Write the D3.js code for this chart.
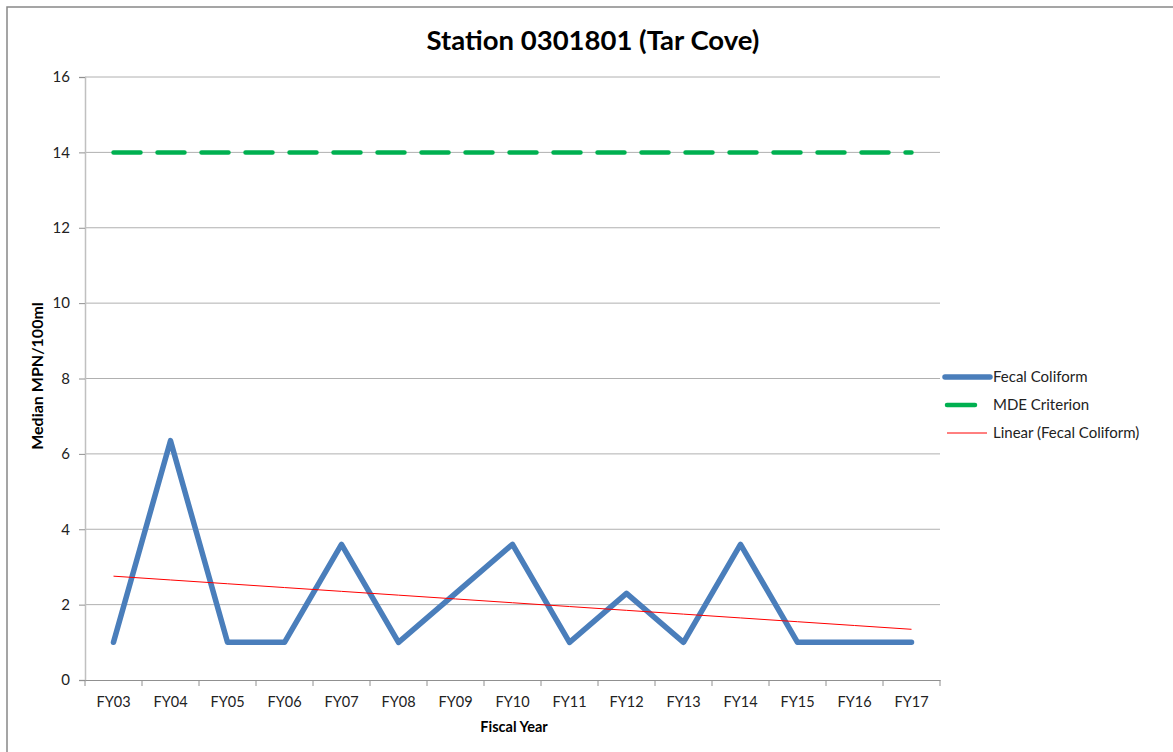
<!DOCTYPE html>
<html><head><meta charset="utf-8">
<script src="https://cdn.jsdelivr.net/npm/d3@7"></script>
<style>body{margin:0;background:#fff;}svg{display:block;font-family:Lato,"Open Sans",sans-serif;}</style>
</head><body>
<script>
const categories = ["FY03","FY04","FY05","FY06","FY07","FY08","FY09","FY10","FY11","FY12","FY13","FY14","FY15","FY16","FY17"];
const fecalColiform = [1, 6.35, 1, 1, 3.6, 1, 2.3, 3.6, 1, 2.3, 1, 3.6, 1, 1, 1];
const mdeCriterion = [14,14,14,14,14,14,14,14,14,14,14,14,14,14,14];
const yTicks = [0,2,4,6,8,10,12,14,16];
const seriesNames = ["Fecal Coliform","MDE Criterion","Linear (Fecal Coliform)"];

(function(){
const W = 1173, H = 752;
const pLeft = 85, pRight = 940, pTop = 77, pBottom = 680;
const svg = d3.select("body").append("svg").attr("width", W).attr("height", H);

svg.append("rect").attr("x",7).attr("y",7).attr("width",W).attr("height",H)
  .attr("fill","#fff").attr("stroke","#888").attr("stroke-width",1.5);

const x = d3.scaleBand().domain(categories).range([pLeft, pRight]);
const y = d3.scaleLinear().domain([0,16]).range([pBottom, pTop]);
const cx = d => x(d) + x.bandwidth()/2;

svg.append("g").selectAll("line").data(yTicks.filter(t=>t>0)).join("line")
  .attr("x1", pLeft).attr("x2", pRight).attr("y1", d=>y(d)).attr("y2", d=>y(d))
  .attr("stroke","#b0b0b0").attr("stroke-width",1);

const yAxis = svg.append("g").attr("transform",`translate(${pLeft},0)`)
  .call(d3.axisLeft(y).tickValues(yTicks).tickSize(6).tickPadding(9));
yAxis.select(".domain").attr("stroke","#c0c0c0").attr("stroke-width",1.5);
yAxis.selectAll(".tick line").attr("stroke","#909090");
yAxis.selectAll("text").attr("font-size",15).attr("fill","#222").attr("font-family","Lato,sans-serif");

const xAxis = svg.append("g").attr("transform",`translate(0,${pBottom})`)
  .call(d3.axisBottom(x).tickSize(0).tickPadding(17));
xAxis.select(".domain").attr("stroke","#909090").attr("stroke-width",1.2);
xAxis.selectAll("text").attr("font-size",14.5).attr("fill","#222").attr("font-family","Lato,sans-serif");
const bounds = categories.map(c=>x(c)).concat([pRight]);
svg.append("g").selectAll("line").data(bounds).join("line")
  .attr("x1",d=>d).attr("x2",d=>d).attr("y1",pBottom).attr("y2",pBottom+6)
  .attr("stroke","#909090").attr("stroke-width",1);

const n = fecalColiform.length;
const xs = d3.range(1, n+1);
const mx = d3.mean(xs), my = d3.mean(fecalColiform);
const slope = d3.sum(xs.map((v,i)=>(v-mx)*(fecalColiform[i]-my))) / d3.sum(xs.map(v=>(v-mx)*(v-mx)));
const intercept = my - slope*mx;
const trend = xs.map(v => intercept + slope*v);

const line = d3.line().x((d,i)=>cx(categories[i])).y(d=>y(d));
svg.append("path").datum(mdeCriterion).attr("d", line)
  .attr("fill","none").attr("stroke","#00B050").attr("stroke-width",4.5)
  .attr("stroke-dasharray","27,17").attr("stroke-linecap","round");

svg.append("path").datum(fecalColiform).attr("d", line)
  .attr("fill","none").attr("stroke","#4A7EBB").attr("stroke-width",5.5)
  .attr("stroke-linejoin","round").attr("stroke-linecap","round");

svg.append("path").datum(trend).attr("d", line)
  .attr("fill","none").attr("stroke","#FF0000").attr("stroke-width",1);

svg.append("text").attr("x", 593).attr("y", 50).attr("text-anchor","middle")
  .attr("font-size",27.5).attr("font-weight","bold").attr("fill","#000").text("Station 0301801 (Tar Cove)");

svg.append("text").attr("transform","translate(43,376) rotate(-90)").attr("text-anchor","middle")
  .attr("font-size",16).attr("font-weight","bold").attr("fill","#000").text("Median MPN/100ml");
svg.append("text").attr("x", 514).attr("y", 732).attr("text-anchor","middle")
  .attr("font-size",14.5).attr("font-weight","bold").attr("fill","#000").text("Fiscal Year");

const legend = svg.append("g");
const ly = [377, 405, 433];
const lstyles = [
  {x1:945,x2:990,stroke:"#4A7EBB",w:5.5,cap:"round"},
  {x1:947,x2:975,stroke:"#00B050",w:4.5,cap:"round"},
  {x1:947,x2:987,stroke:"#FF0000",w:1,cap:"butt"}
];
seriesNames.forEach((name,i)=>{
  const s = lstyles[i];
  legend.append("line").attr("x1",s.x1).attr("x2",s.x2).attr("y1",ly[i]).attr("y2",ly[i])
    .attr("stroke",s.stroke).attr("stroke-width",s.w).attr("stroke-linecap",s.cap);
  legend.append("text").attr("x",993).attr("y",ly[i]+5).attr("font-size",15).attr("fill","#222").text(name);
});
})();
</script>
</body></html>
